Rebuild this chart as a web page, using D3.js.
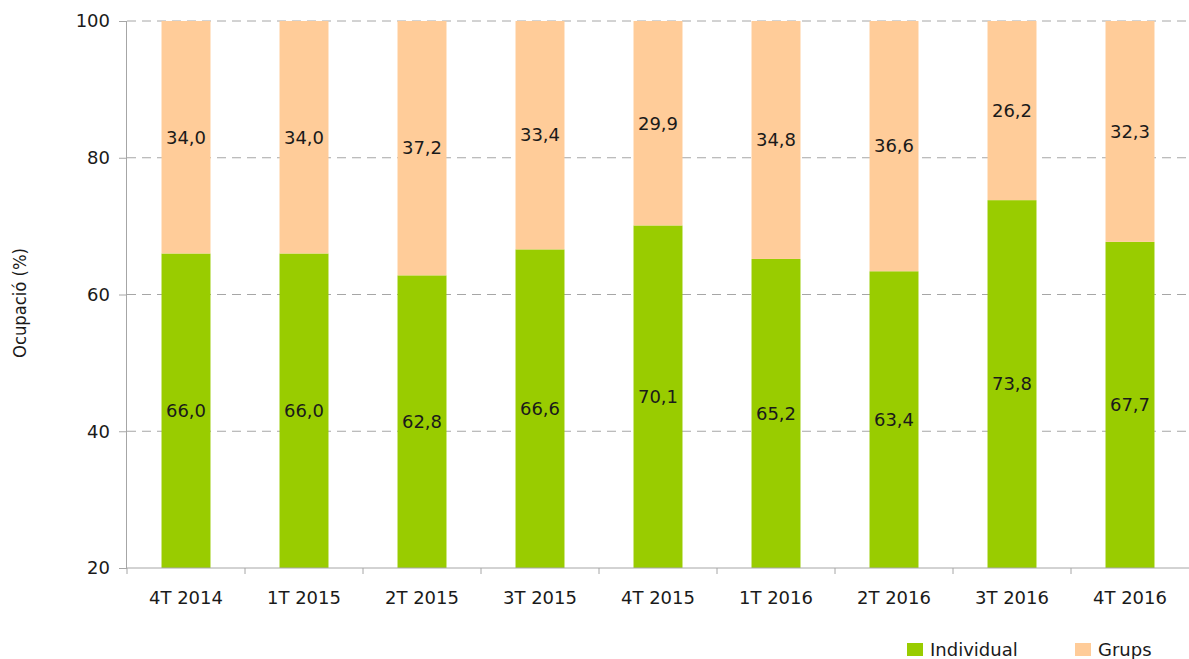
<!DOCTYPE html>
<html lang="ca">
<head>
    <meta charset="UTF-8">
    <title>Ocupació</title>
    <script src="https://d3js.org/d3.v7.min.js"></script>
    <style>
        body { margin: 0; background: #fff; }
        text { font-family: "DejaVu Sans", Verdana, sans-serif; fill: #1a1a1a; }
    </style>
</head>
<body>
    <svg width="1189" height="659"></svg>

    <script>
        // Data
        const categories = ["4T 2014", "1T 2015", "2T 2015", "3T 2015", "4T 2015", "1T 2016", "2T 2016", "3T 2016", "4T 2016"];
        const individual = [66.0, 66.0, 62.8, 66.6, 70.1, 65.2, 63.4, 73.8, 67.7];
        const grups = [34.0, 34.0, 37.2, 33.4, 29.9, 34.8, 36.6, 26.2, 32.3];
        const yTicks = [20, 40, 60, 80, 100];

        const green = "#99cc00", peach = "#ffcc99";
        const fmt = v => v.toFixed(1).replace(".", ",");

        const svg = d3.select("svg");
        const plotLeft = 127, plotRight = 1189, plotTop = 21, plotBottom = 568;

        const x = d3.scaleBand().domain(categories).range([plotLeft, plotRight]).paddingInner(0.585).paddingOuter(0.2925);
        const y = d3.scaleLinear().domain([20, 100]).range([plotBottom, plotTop]);

        // Gridlines
        svg.append("g")
            .selectAll("line")
            .data(yTicks.filter(t => t > 20))
            .join("line")
            .attr("x1", plotLeft).attr("x2", plotRight)
            .attr("y1", d => y(d)).attr("y2", d => y(d))
            .attr("stroke", "#a6a6a6")
            .attr("stroke-dasharray", "9,6");

        const rows = categories.map((c, i) => ({ cat: c, ind: individual[i], gr: grups[i] }));

        // Individual bars
        svg.append("g")
            .selectAll("rect")
            .data(rows)
            .join("rect")
            .attr("x", d => x(d.cat))
            .attr("width", x.bandwidth())
            .attr("y", d => y(d.ind))
            .attr("height", d => y(20) - y(d.ind))
            .attr("fill", green);

        // Grups bars, stacked on top
        svg.append("g")
            .selectAll("rect")
            .data(rows)
            .join("rect")
            .attr("x", d => x(d.cat))
            .attr("width", x.bandwidth())
            .attr("y", d => y(d.ind + d.gr))
            .attr("height", d => y(d.ind) - y(d.ind + d.gr))
            .attr("fill", peach);

        // Value labels
        const labels = svg.append("g").attr("font-size", 18).attr("text-anchor", "middle");
        labels.selectAll("text.ind")
            .data(rows)
            .join("text")
            .attr("class", "ind")
            .attr("x", d => x(d.cat) + x.bandwidth() / 2)
            .attr("y", d => y((20 + d.ind) / 2))
            .attr("dy", "0.35em")
            .text(d => fmt(d.ind));
        labels.selectAll("text.gr")
            .data(rows)
            .join("text")
            .attr("class", "gr")
            .attr("x", d => x(d.cat) + x.bandwidth() / 2)
            .attr("y", d => y(d.ind + d.gr / 2))
            .attr("dy", "0.35em")
            .text(d => fmt(d.gr));

        // Y axis
        const yAxis = svg.append("g")
            .attr("transform", `translate(${plotLeft},0)`)
            .call(d3.axisLeft(y).tickValues(yTicks).tickSize(8).tickPadding(9));
        yAxis.select(".domain").attr("stroke", "#a6a6a6").attr("d", `M-0.5,${plotTop}V${plotBottom}`);
        yAxis.selectAll(".tick line").attr("stroke", "#a6a6a6");
        yAxis.selectAll(".tick text").attr("font-size", 18).attr("font-family", null).attr("fill", "#1a1a1a");

        // X axis with ticks at band boundaries
        const xAxis = svg.append("g").attr("transform", `translate(0,${plotBottom})`);
        xAxis.append("line")
            .attr("x1", plotLeft).attr("x2", plotRight)
            .attr("stroke", "#a6a6a6");
        const step = x.step();
        xAxis.selectAll("line.tk")
            .data(categories)
            .join("line")
            .attr("class", "tk")
            .attr("x1", d => x(d) + x.bandwidth() / 2 - step / 2)
            .attr("x2", d => x(d) + x.bandwidth() / 2 - step / 2)
            .attr("y1", 0).attr("y2", 6)
            .attr("stroke", "#a6a6a6");
        xAxis.selectAll("text")
            .data(categories)
            .join("text")
            .attr("x", d => x(d) + x.bandwidth() / 2)
            .attr("y", 36)
            .attr("text-anchor", "middle")
            .attr("font-size", 18)
            .text(d => d);

        // Y axis title
        svg.append("text")
            .attr("transform", "translate(26,303) rotate(-90)")
            .attr("text-anchor", "middle")
            .attr("font-family", "'Liberation Sans Narrow', 'Liberation Sans', sans-serif")
            .attr("font-size", 17)
            .attr("textLength", 110)
            .attr("lengthAdjust", "spacingAndGlyphs")
            .text("Ocupació (%)");

        // Legend
        const legendItems = [{ name: "Individual", color: green, x: 907 }, { name: "Grups", color: peach, x: 1075 }];
        const legend = svg.append("g").selectAll("g")
            .data(legendItems)
            .join("g")
            .attr("transform", d => `translate(${d.x},643)`);
        legend.append("rect").attr("width", 16).attr("height", 13).attr("fill", d => d.color);
        legend.append("text")
            .attr("x", 23).attr("y", 7).attr("dy", "0.35em")
            .attr("font-size", 18)
            .text(d => d.name);
    </script>
</body>
</html>
